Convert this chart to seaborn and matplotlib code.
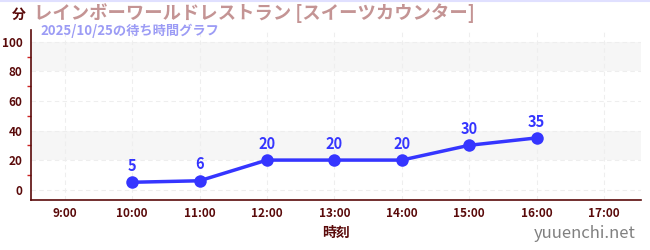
import matplotlib
matplotlib.use("Agg")
import matplotlib.pyplot as plt
import seaborn as sns
import pandas as pd
from matplotlib.ticker import FixedLocator

hours = [10, 11, 12, 13, 14, 15, 16]
waits = [5, 6, 20, 20, 20, 30, 35]
xtick_hours = [9, 10, 11, 12, 13, 14, 15, 16, 17]
xtick_labels = ["9:00", "10:00", "11:00", "12:00", "13:00", "14:00", "15:00", "16:00", "17:00"]
ytick_values = [0, 20, 40, 60, 80, 100]
title = "レインボーワールドレストラン [スイーツカウンター]"
subtitle = "2025/10/25の待ち時間グラフ"

sns.set_theme(style="white")
plt.rcParams['font.family'] = ['Noto Sans CJK JP', 'DejaVu Sans']

df = pd.DataFrame({"hour": hours, "wait": waits})

fig = plt.figure(figsize=(6.5, 2.5), dpi=100)
ax = fig.add_axes([31/650, 1-200/250, (641-31)/650, (200-30)/250])

dark = "#5a0a0a"
line_col = "#3535ff"

for lo, hi in [(20, 40), (80, 100)]:
    ax.axhspan(lo, hi, color="#f6f6f6", zorder=0, lw=0)

sns.lineplot(data=df, x="hour", y="wait", ax=ax, color=line_col, lw=2.5,
             marker="o", markersize=9, markeredgewidth=0, zorder=3)
for h, w in zip(hours, waits):
    ax.annotate(str(w), (h, w), xytext=(0, 6), textcoords="offset points",
                ha="center", va="bottom", color=line_col, fontsize=10.5, fontweight="bold")

ax.set_xlim(8.5, 17.55)
ax.set_ylim(-7, 108)
ax.xaxis.set_major_locator(FixedLocator(xtick_hours))
ax.set_xticklabels(xtick_labels)
ax.yaxis.set_major_locator(FixedLocator(ytick_values))
ax.yaxis.set_minor_locator(FixedLocator([10, 30, 50, 70, 90]))

ax.grid(True, which="major", color="#eeeeee", ls=(0, (4, 3)), lw=0.8)
for s in ["top", "right"]:
    ax.spines[s].set_visible(False)
for s in ["left", "bottom"]:
    ax.spines[s].set_color(dark)
    ax.spines[s].set_linewidth(1.2)

ax.tick_params(axis="both", which="major", colors=dark, labelsize=8.5, length=4, width=1, direction="out")
ax.tick_params(axis="y", which="minor", colors="#cc2222", length=3, width=1, left=True)
for lbl in ax.get_xticklabels() + ax.get_yticklabels():
    lbl.set_fontweight("bold")
    lbl.set_color(dark)
ax.tick_params(axis="x", pad=1)
ax.tick_params(axis="y", pad=2)

ax.set_xlabel("時刻", color=dark, fontsize=10, fontweight="bold", labelpad=4)
ax.set_ylabel("")

fig.text(12/650, 1-15/250, "分", color=dark, fontsize=10, fontweight="bold", ha="left", va="center")
fig.text(34/650, 1-13/250, title, color="#c49494", fontsize=13.2, fontweight="bold", ha="left", va="center")
fig.text(40/650, 1-31/250, subtitle, color="#9c9cf5", fontsize=9.5, fontweight="bold", ha="left", va="center")
fig.text(636/650, 1-233/250, "yuuenchi.net", color="#808080", fontsize=12, ha="right", va="center")

fig.add_artist(plt.Line2D([0, 1], [0.998, 0.998], color="#e0e0ff", lw=1.5, transform=fig.transFigure))

fig.savefig("out.png", dpi=100)
